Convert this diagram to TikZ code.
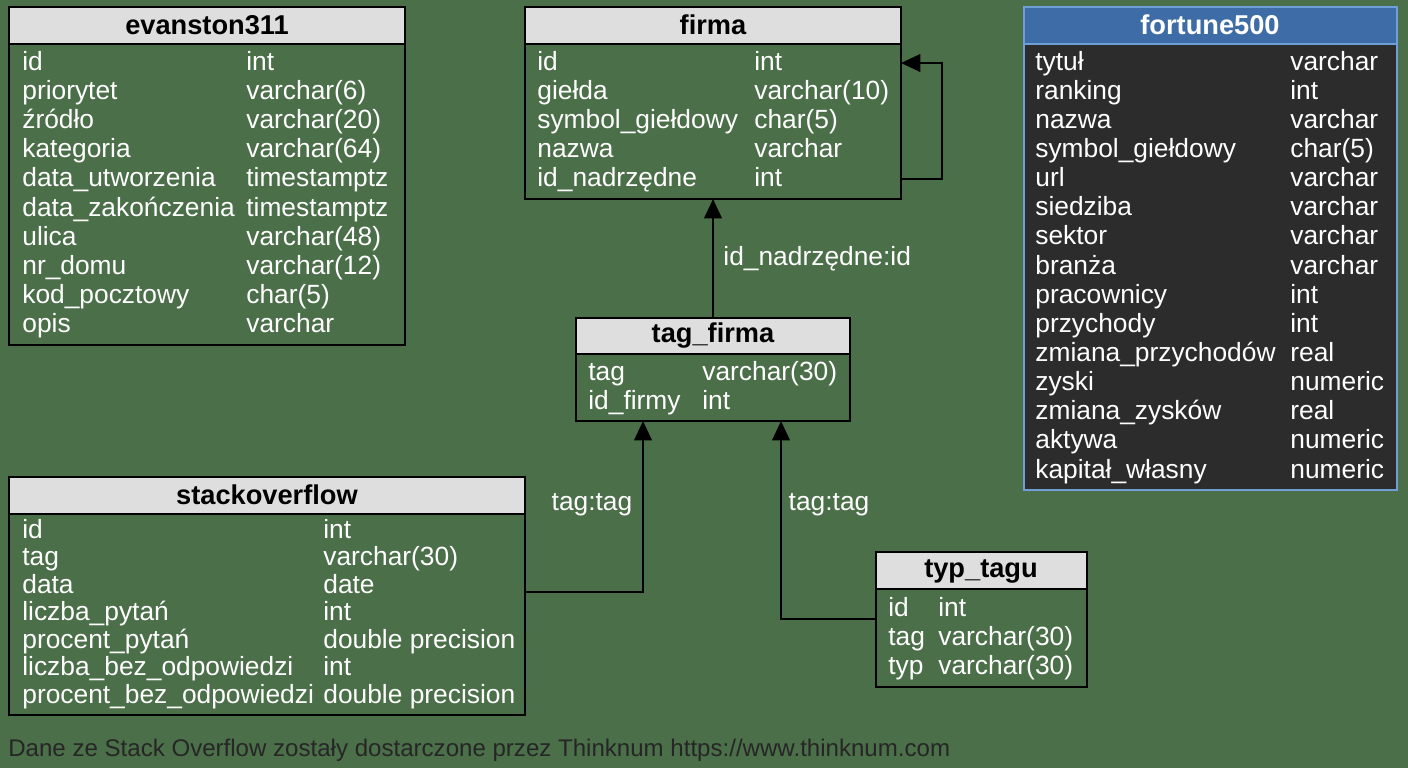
\documentclass[tikz,border=0pt]{standalone}
\usepackage{fontspec}
\setmainfont{Liberation Sans}
\usetikzlibrary{arrows.meta}
\definecolor{bgreen}{RGB}{75,111,73}
\definecolor{hgray}{RGB}{222,222,222}
\definecolor{fblue}{RGB}{62,108,166}
\definecolor{fborder}{RGB}{110,160,215}
\definecolor{fdark}{RGB}{44,44,44}
\tikzset{
  head/.style={draw=black, line width=1.2pt, fill=hgray},
  body/.style={draw=black, line width=1.2pt},
  title/.style={font=\fontsize{15.5}{17}\selectfont\bfseries},
  field/.style={anchor=west, inner sep=0pt, text height=11pt, text depth=3pt,
    text=white, font=\fontsize{15}{17}\selectfont},
  rel/.style={line width=1.2pt, -{Triangle[length=11pt,width=10pt]}},
  lbl/.style={text=white, font=\fontsize{15}{17}\selectfont}
}
\begin{document}
\begin{tikzpicture}[x=0.02cm, y=-0.02cm]
  \fill[bgreen] (0,0) rectangle (1408,768);
  \useasboundingbox (0,0) rectangle (1408,768);

  % evanston311
  \draw[body] (9,44) rectangle (405,345);
  \draw[head] (9,7) rectangle (405,44);
  \node[title] (evanston) at (207,25) {evanston311};
  \foreach \f/\t [count=\i from 0] in {id/int, priorytet/varchar(6), źródło/varchar(20),
      kategoria/varchar(64), data\_utworzenia/timestamptz, data\_zakończenia/timestamptz,
      ulica/varchar(48), nr\_domu/varchar(12), kod\_pocztowy/char(5), opis/varchar} {
    \node[field] at (22,63+29.2*\i) {\f};
    \node[field] at (246,63+29.2*\i) {\t};
  }

  % firma
  \draw[body] (525,44) rectangle (901,199);
  \draw[head] (525,7) rectangle (901,44);
  \node[title] at (713,25) {firma};
  \coordinate (firmaS) at (713,199);
  \coordinate (firmaIn) at (901,63);
  \coordinate (firmaOut) at (901,179);
  \foreach \f/\t [count=\i from 0] in {id/int, giełda/varchar(10),
      symbol\_giełdowy/char(5), nazwa/varchar, id\_nadrzędne/int} {
    \node[field] at (537,63+29.2*\i) {\f};
    \node[field] at (754,63+29.2*\i) {\t};
  }

  % fortune500
  \draw[fborder, line width=1.5pt, fill=fdark] (1024,44) rectangle (1397,490);
  \draw[fborder, line width=1.5pt, fill=fblue] (1024,7) rectangle (1397,44);
  \node[title, text=white] (fortune) at (1210,25) {fortune500};
  \foreach \f/\t [count=\i from 0] in {tytuł/varchar, ranking/int, nazwa/varchar,
      symbol\_giełdowy/char(5), url/varchar, siedziba/varchar, sektor/varchar,
      branża/varchar, pracownicy/int, przychody/int, zmiana\_przychodów/real,
      zyski/numeric, zmiana\_zysków/real, aktywa/numeric, kapitał\_własny/numeric} {
    \node[field] at (1035,63+29.15*\i) {\f};
    \node[field] at (1290,63+29.15*\i) {\t};
  }

  % tag_firma
  \draw[body] (576,354) rectangle (850,421);
  \draw[head] (576,318) rectangle (850,354);
  \node[title] at (713,336) {tag\_firma};
  \coordinate (tfN) at (713,318);
  \coordinate (tfA) at (643,421);
  \coordinate (tfB) at (781,421);
  \node[field] at (588,373) {tag};
  \node[field] at (702,373) {varchar(30)};
  \node[field] at (588,402) {id\_firmy};
  \node[field] at (702,402) {int};

  % stackoverflow
  \draw[body] (9,514) rectangle (525,715);
  \draw[head] (9,477) rectangle (525,514);
  \node[title] at (267,495) {stackoverflow};
  \coordinate (soE) at (525,592);
  \foreach \f/\t [count=\i from 0] in {id/int, tag/varchar(30), data/date,
      liczba\_pytań/int, procent\_pytań/double precision,
      liczba\_bez\_odpowiedzi/int, procent\_bez\_odpowiedzi/double precision} {
    \node[field] at (22,531+27.5*\i) {\f};
    \node[field] at (323,531+27.5*\i) {\t};
  }

  % typ_tagu
  \draw[body] (876,589) rectangle (1087,687);
  \draw[head] (876,552) rectangle (1087,589);
  \node[title] at (981,571) {typ\_tagu};
  \coordinate (ttW) at (876,619);
  \foreach \f/\t [count=\i from 0] in {id/int, tag/varchar(30), typ/varchar(30)} {
    \node[field] at (888,609+29*\i) {\f};
    \node[field] at (938,609+29*\i) {\t};
  }

  % relations
  \draw[rel] (firmaOut) -- (942,179) -- (942,63) -- (firmaIn);
  \draw[rel] (tfN) -- node[lbl, right=2pt, pos=0.5] {id\_nadrzędne:id} (firmaS);
  \draw[rel] (soE) -- (643,592) -- (tfA);
  \draw[rel] (ttW) -- (781,619) -- (tfB);
  \node[lbl] at (592,505) {tag:tag};
  \node[lbl] at (829,505) {tag:tag};

  \node[anchor=west, inner sep=0pt, font=\fontsize{13.7}{15}\selectfont, text=black!85] (note) at (8,750)
    {Dane ze Stack Overflow zostały dostarczone przez Thinknum https://www.thinknum.com};
\end{tikzpicture}
\end{document}
